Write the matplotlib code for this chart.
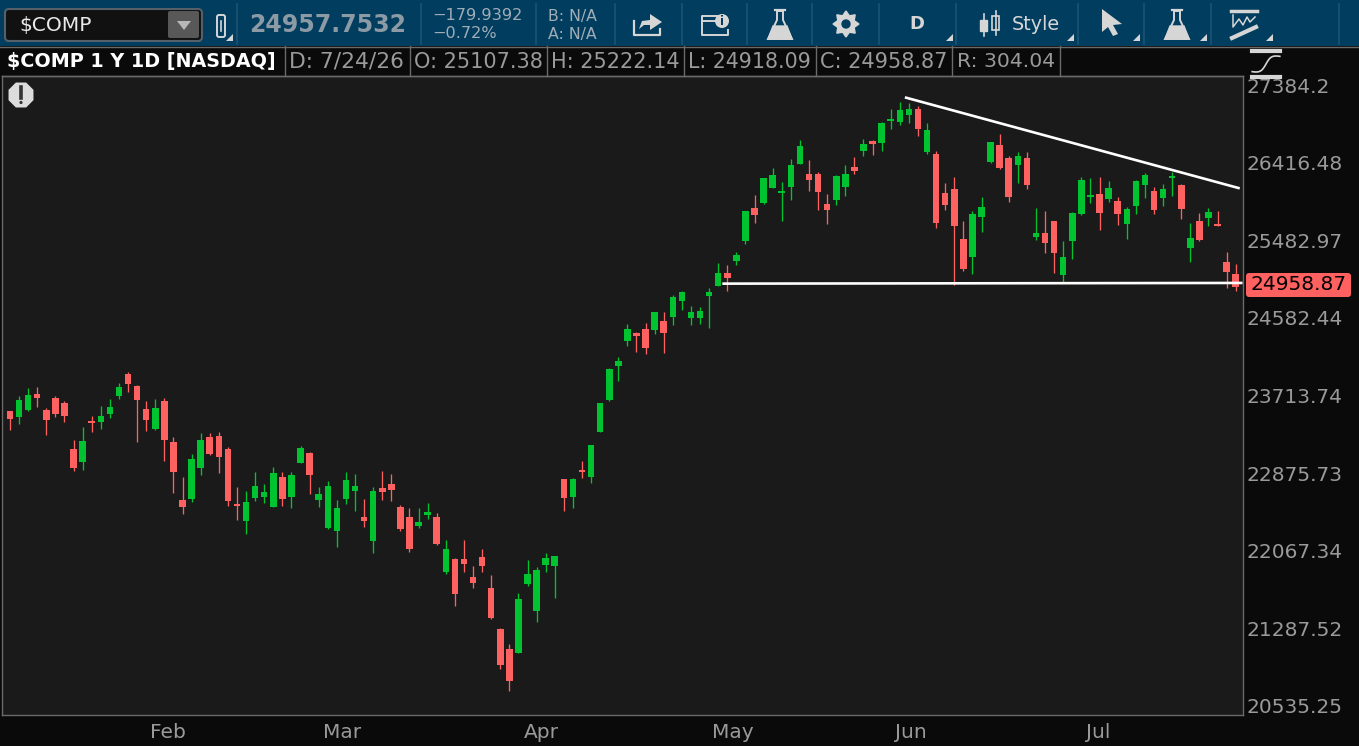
#!/usr/bin/env python3
"""
Daily candlestick chart of $COMP in a dark trading-platform layout.
"""

import numpy as np
import matplotlib
matplotlib.use("Agg")
import matplotlib.pyplot as plt
from matplotlib.patches import Polygon, Rectangle, Circle, FancyBboxPatch

opens = [
    23566, 23501, 23577, 23752, 23577, 23708, 23653, 23155, 23016, 23457,
    23446, 23533, 23730, 23974, 23841, 23588, 23370, 23675, 23229, 22614,
    22624, 22951, 23283, 23294, 23155, 22572, 22395, 22635, 22645, 22541,
    22856, 22645, 23005, 23112, 22614, 22323, 22292, 22624, 22709, 22436,
    22189, 22740, 22782, 22541, 22436, 22343, 22457, 22436, 21872, 22004,
    22004, 21821, 22025, 21710, 21301, 21105, 21066, 21751, 21480, 21943,
    21933, 22835, 22645, 22930, 22856, 23337, 23686, 24063, 24343, 24434,
    24479, 24468, 24570, 24615, 24799, 24604, 24604, 24856, 24972, 25123,
    25263, 25498, 25891, 25951, 26132, 26072, 26144, 26425, 26302, 26302,
    25939, 25987, 26144, 26388, 26585, 26708, 26683, 26957, 26944, 27032,
    27107, 26572, 26548, 26072, 26120, 25522, 25310, 25784, 26449, 26658,
    26498, 26412, 26498, 25546, 25593, 25736, 25100, 25498, 25819, 26023,
    26060, 25999, 25975, 25700, 25915, 26169, 26096, 26011, 26254, 26169,
    25416, 25736, 25772, 25700, 25251, 25107.38,
]
highs = [
    23566, 23730, 23818, 23829, 23599, 23730, 23675, 23251, 23392, 23512,
    23621, 23697, 23874, 23996, 23852, 23675, 23697, 23708, 23283, 22856,
    23101, 23327, 23327, 23337, 23176, 22750, 22709, 22909, 22782, 22962,
    22909, 22909, 23187, 23123, 22750, 22814, 22614, 22909, 22888, 22624,
    22750, 22919, 22888, 22562, 22530, 22530, 22583, 22478, 22199, 22014,
    22199, 21933, 22106, 21841, 21311, 21154, 21660, 21994, 21923, 22065,
    22035, 22835, 22845, 23026, 23198, 23653, 24040, 24164, 24536, 24445,
    24547, 24672, 24672, 24868, 24914, 24741, 24730, 24949, 25240, 25217,
    25369, 25855, 26047, 26254, 26376, 26206, 26486, 26720, 26474, 26327,
    26060, 26290, 26412, 26511, 26732, 26720, 26944, 27107, 27195, 27182,
    27145, 26932, 26585, 26193, 26266, 25736, 25855, 26023, 26695, 26795,
    26523, 26572, 26572, 25891, 25855, 25736, 25498, 25843, 26266, 26254,
    26266, 26218, 26023, 25903, 26230, 26315, 26144, 26181, 26327, 26181,
    25712, 25831, 25891, 25855, 25369, 25222.14,
]
lows = [
    23359, 23424, 23566, 23610, 23305, 23501, 23446, 22919, 22930, 23337,
    23370, 23490, 23697, 23774, 23229, 23348, 23359, 23026, 22688, 22468,
    22593, 22877, 23091, 22898, 22552, 22405, 22261, 22604, 22583, 22541,
    22552, 22530, 23005, 22677, 22541, 22312, 22127, 22572, 22499, 22333,
    22065, 22614, 22604, 22292, 22075, 22323, 22415, 22148, 21851, 21530,
    21872, 21710, 21872, 21400, 20910, 20698, 21066, 21730, 21370, 21872,
    21609, 22499, 22530, 22845, 22792, 23337, 23675, 23896, 24287, 24220,
    24197, 24422, 24208, 24524, 24695, 24524, 24536, 24490, 24972, 24914,
    25217, 25463, 25712, 25939, 26132, 25736, 25987, 26425, 26096, 25867,
    25700, 25927, 26035, 26302, 26523, 26536, 26585, 26857, 26907, 26932,
    26770, 26548, 25653, 25867, 24984, 25146, 25112, 25605, 26437, 26364,
    25963, 26193, 26120, 25510, 25357, 25123, 25007, 25287, 25807, 25951,
    25629, 25963, 25688, 25522, 25819, 26011, 25819, 25915, 26035, 25760,
    25251, 25498, 25676, 25676, 24949, 24918.09,
]
closes = [
    23479, 23686, 23741, 23708, 23468, 23533, 23512, 22951, 23240, 23435,
    23512, 23610, 23829, 23863, 23686, 23468, 23599, 23251, 22909, 22541,
    23047, 23251, 23101, 23069, 22604, 22552, 22593, 22761, 22698, 22898,
    22624, 22877, 23165, 22877, 22677, 22761, 22530, 22824, 22761, 22395,
    22709, 22698, 22719, 22312, 22106, 22384, 22488, 22158, 22106, 21650,
    21953, 21761, 21933, 21410, 20949, 20794, 21599, 21851, 21892, 22014,
    22035, 22635, 22835, 22909, 23198, 23653, 24029, 24119, 24479, 24400,
    24264, 24672, 24434, 24845, 24903, 24672, 24684, 24903, 25123, 25065,
    25334, 25855, 25807, 26254, 26290, 26096, 26412, 26646, 26230, 26084,
    25867, 26278, 26302, 26339, 26671, 26671, 26932, 26982, 27094, 27107,
    26857, 26844, 25712, 25927, 25676, 25170, 25819, 25903, 26695, 26376,
    26023, 26523, 26169, 25593, 25475, 25357, 25310, 25831, 26230, 26047,
    25831, 26132, 25819, 25879, 26218, 26290, 25867, 26120, 26278, 25879,
    25534, 25510, 25843, 25676, 25135, 24958.87,
]

month_labels = ["Feb", "Mar", "Apr", "May", "Jun", "Jul"]
month_ticks = [17.4, 36.6, 58.5, 79.6, 99.2, 119.9]
price_ticks = [27384.2, 26416.48, 25482.97, 24582.44, 23713.74,
               22875.73, 22067.34, 21287.52, 20535.25]

# hand drawn trend lines: (candle index, price) at each end
resistance_x = [98.7, 135.3]
resistance_y = [27249, 26132]
support_x = [78.6, 135.6]
support_y = [24999, 25007]

BG = "#1a1a1a"
BLACK = "#0a0a0a"
BAR = "#003d5f"
UP = "#00c42f"
DOWN = "#ff6060"
GRID = "#6a6a6a"
TEXT = "#9a9a9a"
ICON = "#d6d6d6"

W, H = 1359, 746


def flask(ui, cx, top, bottom):
    ui.add_patch(Polygon([(cx - 3, top + 2), (cx + 3, top + 2), (cx + 3, top + 11),
                          (cx + 12, bottom), (cx - 12, bottom), (cx - 3, top + 11)],
                         closed=True, fc=BAR, ec=ICON, lw=1.4))
    ui.add_patch(Polygon([(cx - 7, top + 17), (cx + 7, top + 17), (cx + 12, bottom),
                          (cx - 12, bottom)], closed=True, fc=ICON, ec=ICON, lw=1))
    ui.plot([cx - 5, cx + 5], [top + 1, top + 1], color=ICON, lw=1.6)


def gear(ui, cx, cy, r):
    angles = np.linspace(0, 2 * np.pi, 16, endpoint=False)
    radii = np.where(np.arange(16) % 2 == 0, r, r * 0.68)
    pts = np.column_stack([cx + radii * np.cos(angles), cy + radii * np.sin(angles)])
    ui.add_patch(Polygon(pts, closed=True, fc=ICON, ec=ICON, lw=1))
    ui.add_patch(Circle((cx, cy), r * 0.36, fc=BAR, ec="none"))


def corner(ui, x, y):
    ui.add_patch(Polygon([(x, y), (x, y - 7), (x - 7, y)], closed=True, fc=ICON, ec="none"))


def draw_toolbar(ui):
    ui.add_patch(Rectangle((0, 0), W, 46, fc=BAR, ec="none"))
    ui.add_patch(FancyBboxPatch((5, 9), 197, 32, boxstyle="round,pad=0,rounding_size=4",
                                fc="#111111", ec="#55606a", lw=1.5))
    ui.text(19, 25, "$COMP", color="#e8e8e8", fontsize=14.6, va="center")
    ui.add_patch(FancyBboxPatch((168, 11), 31, 27, boxstyle="round,pad=0,rounding_size=2",
                                fc="#585858", ec="none"))
    ui.add_patch(Polygon([(177, 21), (191, 21), (184, 30)], closed=True, fc="#b8b8b8", ec="none"))

    for x in [237, 421, 536, 615, 682, 747, 812, 879, 956, 1078, 1144, 1211, 1339]:
        ui.plot([x, x], [4, 44], color="#1a5575", lw=1.2)

    # chain link button
    ui.add_patch(FancyBboxPatch((217, 15), 8, 22, boxstyle="round,pad=0,rounding_size=2",
                                fc="none", ec=ICON, lw=1.4))
    ui.plot([221, 221], [21, 31], color=ICON, lw=1.2)
    corner(ui, 233, 41)

    ui.text(249, 25, "24957.7532", color="#8b9aa5", fontsize=17, fontweight="bold", va="center")
    ui.text(432, 16, "\u2212179.9392", color="#a0adb6", fontsize=11.6, va="center")
    ui.text(432, 34, "\u22120.72%", color="#a0adb6", fontsize=11.6, va="center")
    ui.text(548, 16, "B: N/A", color="#a0adb6", fontsize=11.3, va="center")
    ui.text(548, 34, "A: N/A", color="#a0adb6", fontsize=11.3, va="center")

    # share
    ui.plot([634, 634, 660, 660], [21, 35, 35, 29], color=ICON, lw=1.6)
    ui.add_patch(Polygon([(639, 29), (642, 21), (650, 20), (650, 14), (662, 22), (650, 30),
                          (650, 25), (644, 25)], closed=True, fc=ICON, ec="none"))
    # info panel
    ui.plot([722, 702, 702, 728, 728], [16, 16, 35, 35, 30], color=ICON, lw=1.4)
    ui.plot([702, 716], [21, 21], color=ICON, lw=1.4)
    ui.add_patch(Circle((722, 21), 7, fc=ICON, ec="none"))
    ui.text(722, 21.5, "i", color=BAR, fontsize=8.5, fontweight="bold", ha="center", va="center")

    flask(ui, 780, 9, 39)
    gear(ui, 846, 24, 13)
    ui.text(917, 24, "D", color=ICON, fontsize=13, fontweight="bold", ha="center", va="center")
    corner(ui, 953, 41)

    # candle style icon
    ui.plot([984, 984], [14, 36], color=ICON, lw=1.2)
    ui.add_patch(Rectangle((980, 20), 7, 11, fc=ICON, ec=ICON, lw=1))
    ui.plot([996, 996], [11, 35], color=ICON, lw=1.2)
    ui.add_patch(Rectangle((992, 16), 7, 14, fc=BAR, ec=ICON, lw=1.2))
    ui.text(1012, 24, "Style", color=ICON, fontsize=13.8, va="center")
    corner(ui, 1074, 41)

    # cursor
    ui.add_patch(Polygon([(1102, 9), (1122, 24), (1113, 25), (1118, 34), (1113, 36),
                          (1108, 27), (1102, 32)], closed=True, fc=ICON, ec="none"))
    corner(ui, 1140, 41)

    flask(ui, 1177, 9, 39)
    corner(ui, 1207, 41)

    # drawing tools
    ui.plot([1231, 1257], [11, 11], color=ICON, lw=2.5)
    ui.plot([1233, 1233, 1239, 1243, 1247, 1250, 1255], [15, 27, 19, 25, 17, 22, 17], color=ICON, lw=1.1)
    ui.plot([1232, 1256], [38, 27], color=ICON, lw=3)
    corner(ui, 1273, 41)


def draw_header(ui):
    ui.plot([0, W], [46.5, 46.5], color=GRID, lw=1)
    ui.plot([2, 1243], [76, 76], color=GRID, lw=1)
    ui.text(7, 61.5, "$COMP 1 Y 1D [NASDAQ]", color="white", fontsize=13.8, fontweight="bold", va="center")
    cells = [(289, "D: 7/24/26", 15.7), (414, "O: 25107.38", 15), (551, "H: 25222.14", 15),
             (688, "L: 24918.09", 14.8), (820, "C: 24958.87", 15), (957, "R: 304.04", 14.7)]
    for x, s, size in cells:
        ui.text(x, 61.5, s, color=TEXT, fontsize=size, va="center")
    for x in [284.5, 410, 547, 683.5, 816, 952, 1060]:
        ui.plot([x, x], [46, 76], color=GRID, lw=1)

    # study icon in the price column
    ui.plot([1252, 1280], [51, 51], color=ICON, lw=3)
    ui.plot([1252, 1280], [77, 77], color=ICON, lw=3)
    t = np.linspace(-3, 3, 40)
    ui.plot(1266 + t * 4.6, 64 - 9 * np.tanh(t * 0.9) * np.cos(t * 0.18), color=ICON, lw=1.2)

    # alert badge on the chart
    a = np.linspace(0, 2 * np.pi, 8, endpoint=False) + np.pi / 8
    ui.add_patch(Polygon(np.column_stack([21 + 13.5 * np.cos(a), 95 + 13.5 * np.sin(a)]),
                         closed=True, fc="#dcdcdc", ec="none", zorder=6))
    ui.plot([21, 21], [87, 98], color="#333333", lw=2.6, zorder=7)
    ui.add_patch(Circle((21, 102.5), 1.6, fc="#333333", ec="none", zorder=7))


def main():
    fig = plt.figure(figsize=(W / 100, H / 100), dpi=100, facecolor=BLACK)

    ax = fig.add_axes([2 / W, 1 - 715 / H, (1243 - 2) / W, (715 - 76) / H], facecolor=BG)
    o = np.array(opens)
    c = np.array(closes)
    idx = np.arange(len(o))
    colors = [UP if up else DOWN for up in c >= o]

    ax.set_yscale("log")
    ax.vlines(idx, lows, highs, colors=colors, linewidth=0.95, zorder=2)
    ax.bar(idx, np.abs(c - o), bottom=np.minimum(o, c), width=0.72, color=colors, linewidth=0, zorder=3)

    ax.plot(resistance_x, resistance_y, color="white", lw=1.9, zorder=4)
    ax.plot(support_x, support_y, color="white", lw=1.9, zorder=4)

    ax.set_xlim(-0.88, 135.8)
    ax.set_ylim(20468.7, 27524.5)
    ax.set_yticks(price_ticks, [str(p) for p in price_ticks])
    ax.minorticks_off()
    ax.set_xticks(month_ticks, month_labels)
    ax.yaxis.tick_right()
    ax.tick_params(axis="y", length=0, pad=2.6, labelsize=14.5, labelcolor=TEXT)
    ax.tick_params(axis="x", length=0, pad=6, labelsize=14.5, labelcolor=TEXT)
    for label in ax.get_yticklabels():
        label.set_verticalalignment("center")
    for spine in ax.spines.values():
        spine.set_color(GRID)
        spine.set_linewidth(1)

    # toolbar, header cells and badges are laid out in pixel units
    ui = fig.add_axes([0, 0, 1, 1], facecolor="none", zorder=5)
    ui.set_xlim(0, W)
    ui.set_ylim(H, 0)
    ui.axis("off")
    draw_toolbar(ui)
    draw_header(ui)

    # last price tag, on the price column next to the final candle
    ui.add_patch(FancyBboxPatch((1246, 273), 105, 24, boxstyle="round,pad=0,rounding_size=3",
                                fc=DOWN, ec="none"))
    ui.text(1298.5, 285, f"{closes[-1]:.2f}", color="black", fontsize=14.5, ha="center", va="center")

    fig.savefig("out.png", dpi=100, facecolor=BLACK)


if __name__ == "__main__":
    main()
